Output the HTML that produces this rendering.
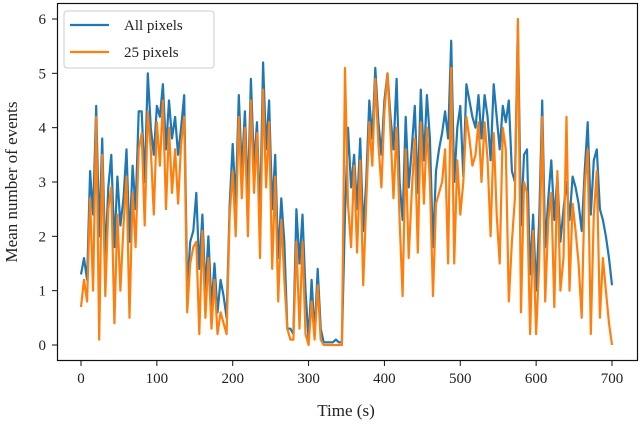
<!DOCTYPE html>
<html><head><meta charset="utf-8"><style>
html,body{margin:0;padding:0;background:#fff}
svg text{font-family:"Liberation Serif",serif;fill:#222}
</style></head><body>
<svg width="640" height="424">
<g id="plot"></g>
</svg>
<script>
const times = [];
const allPixels = [1.3,1.6,1.2,3.2,2.4,4.4,2.0,3.8,1.6,2.9,
3.5,1.8,3.1,2.2,2.7,3.6,1.9,3.3,2.5,4.3,
4.3,3.0,5.0,4.0,3.5,4.4,4.2,4.8,3.6,4.5,
3.8,4.2,3.5,4.0,4.6,1.0,1.9,2.1,2.8,1.4,
2.4,1.0,2.0,0.7,1.5,0.6,1.2,0.9,0.5,2.6,
3.7,2.6,4.6,3.2,4.3,2.7,4.9,3.3,4.1,2.3,
5.2,3.6,4.5,2.5,3.5,1.6,2.7,1.9,0.3,0.3,
0.2,2.5,1.5,2.4,1.0,0.1,1.2,0.2,1.4,0.3,
0.05,0.05,0.05,0.05,0.1,0.05,0.05,2.4,4.0,2.9,
3.5,2.5,3.8,2.1,3.0,4.5,3.8,5.1,4.1,3.5,
4.5,5.0,4.2,3.6,4.9,3.0,2.3,4.2,2.9,3.6,
4.4,2.8,4.7,3.4,4.6,3.8,1.8,3.2,3.6,3.9,
4.3,3.8,5.6,3.0,4.0,4.4,3.1,4.8,4.5,4.2,
4.0,4.6,3.8,4.6,4.2,3.4,4.8,4.2,3.6,4.4,
4.1,4.5,3.2,3.0,5.9,2.2,3.5,3.6,1.3,2.4,
1.0,2.3,4.5,1.8,2.7,3.4,2.3,3.1,1.9,2.5,
3.0,2.3,3.1,2.9,2.6,2.1,3.2,4.1,2.4,3.4,
3.6,2.5,2.3,2.0,1.6,1.1];
const pixels25 = [0.7,1.2,0.8,2.7,1.0,4.2,0.1,3.5,0.9,2.5,
2.9,0.4,2.4,1.0,2.2,3.1,0.5,2.8,1.8,3.6,
3.9,2.2,4.3,3.6,2.4,4.1,3.3,4.5,2.5,4.0,
2.8,3.6,2.6,3.7,4.2,0.6,1.5,1.8,1.9,0.2,
2.1,0.5,1.6,0.3,1.2,0.2,0.6,0.4,0.2,2.4,
3.2,2.0,4.2,2.7,4.0,2.0,4.5,2.8,3.9,1.6,
4.7,2.9,4.1,1.4,3.1,0.8,2.3,1.2,0.3,0.1,
0.1,1.9,0.3,1.9,0.2,0,0.8,0.1,1.1,0.1,
0,0,0,0,0,0,0,5.1,2.6,1.8,
3.3,1.7,3.4,1.1,2.6,4.1,3.3,4.9,3.7,2.9,
4.3,5.0,3.9,2.7,4.0,2.3,0.9,3.6,1.6,2.8,
3.8,1.7,4.1,2.6,4.0,3.0,0.9,2.6,2.8,3.0,
3.6,1.5,5.1,1.5,3.4,2.4,3.0,4.2,3.8,3.3,
3.5,4.1,3.0,4.1,3.4,2.0,3.9,2.4,1.5,4.0,
3.6,0.8,1.9,2.7,6.0,0.6,3.0,2.8,0.2,2.1,
0.2,1.5,4.2,0.8,2.3,2.8,0.7,3.2,1.0,1.6,
4.2,1.0,2.6,2.1,1.5,0.5,2.9,3.6,0.2,2.4,
3.2,0.5,1.6,1.0,0.4,0.0];
for (let i = 0; i < allPixels.length; i++) times.push(i * 4);
const xTicks = [0,100,200,300,400,500,600,700];
const yTicks = [0,1,2,3,4,5,6];

const NS = "http://www.w3.org/2000/svg";
const g = document.getElementById('plot');
const X = t => 81 + t * (531 / 700);
const Y = v => 345 - v * (326 / 6);
function mk(tag, attrs){const e=document.createElementNS(NS,tag);for(const k in attrs)e.setAttribute(k,attrs[k]);g.appendChild(e);return e;}

function series(vals, color, name){
  const p = mk('polyline',{points:vals.map((v,i)=>X(times[i]).toFixed(1)+','+Y(v).toFixed(1)).join(' '),fill:'none',stroke:color,'stroke-width':2.2,'stroke-linejoin':'round'});
  
  
}
series(allPixels,'#1f77b4','all-pixels-line');
series(pixels25,'#ff7f0e','25-pixels-line');

const frame = mk('rect',{x:57.5,y:3.5,width:580,height:357,fill:'none',stroke:'#111','stroke-width':1.2});



xTicks.forEach(t=>{
  const l = mk('line',{x1:X(t),x2:X(t),y1:361,y2:366,stroke:'#111','stroke-width':1});
  
  
  const tx = mk('text',{x:X(t),y:383,'text-anchor':'middle','font-size':15});
  tx.textContent = t;
  
  
});
yTicks.forEach(v=>{
  const l = mk('line',{x1:52,x2:57,y1:Y(v),y2:Y(v),stroke:'#111','stroke-width':1});
  
  
  const tx = mk('text',{x:46,y:Y(v)+5,'text-anchor':'end','font-size':15});
  tx.textContent = v;
  
  
});
const xl = mk('text',{x:346,y:416,'text-anchor':'middle','font-size':17});
xl.textContent = 'Time (s)';


const yl = mk('text',{x:0,y:0,'text-anchor':'middle','font-size':17,transform:'translate(17,182) rotate(-90)'});
yl.textContent = 'Mean number of events';



const lg = mk('rect',{x:64,y:11,width:150,height:57,rx:3,fill:'#fff','fill-opacity':0.85,stroke:'#ccc','stroke-width':1});


[['All pixels','#1f77b4',25],['25 pixels','#ff7f0e',52]].forEach(([lab,c,y])=>{
  const l = mk('line',{x1:70,x2:109,y1:y,y2:y,stroke:c,'stroke-width':2.2});
  
  
  const t = mk('text',{x:124,y:y+5,'font-size':15});
  t.textContent = lab;
  
  
});
</script>
</body></html>
